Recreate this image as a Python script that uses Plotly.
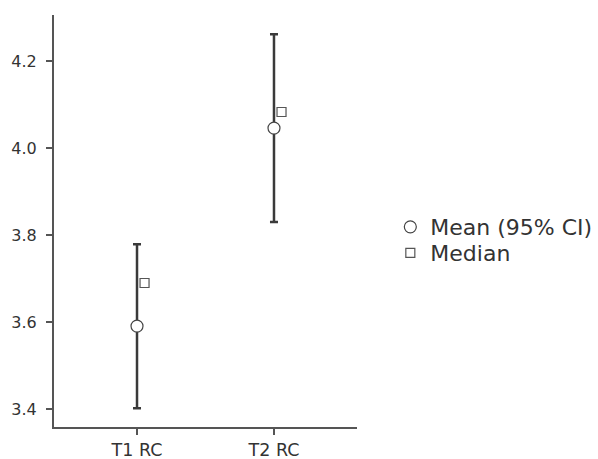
import numpy as np
import plotly.graph_objects as go

categories = ["T1 RC", "T2 RC"]
means = [3.591, 4.046]
ci_low = [3.402, 3.830]
ci_high = [3.779, 4.262]
medians = [3.690, 4.083]
y_ticks = [3.4, 3.6, 3.8, 4.0, 4.2]

xpos = np.arange(len(categories))
m = np.array(means)
err_plus = np.array(ci_high) - m
err_minus = m - np.array(ci_low)

ink = "#333333"
axis_col = "#555555"
font_family = "DejaVu Sans, Liberation Sans, sans-serif"

fig = go.Figure()
fig.add_trace(go.Scatter(
    x=xpos, y=means, mode="markers", name="Mean (95% CI)", legend="legend",
    marker=dict(symbol="circle", size=12, color="white", line=dict(color="#444444", width=1.2)),
    error_y=dict(type="data", symmetric=False, array=err_plus, arrayminus=err_minus,
                 color="#3a3a3a", thickness=2.5, width=4),
))
fig.add_trace(go.Scatter(
    x=xpos + 0.055, y=medians, mode="markers", name="Median", legend="legend2",
    marker=dict(symbol="square", size=9, color="white", line=dict(color="#555555", width=1.2)),
))

leg_common = dict(xanchor="left", yanchor="middle", font=dict(size=22, color=ink, family=font_family),
                  itemwidth=30, bgcolor="rgba(0,0,0,0)", borderwidth=0)

# plot area: x 54..357, y 15..427 inside a 598x459 figure
fig.update_layout(
    width=598, height=459,
    margin=dict(l=54, r=241, t=15, b=32, autoexpand=False),
    plot_bgcolor="white", paper_bgcolor="white",
    font=dict(family=font_family, color=ink, size=16),
    showlegend=True,
    legend=dict(x=1.11, y=0.4854, **leg_common),
    legend2=dict(x=1.11, y=0.4223, **leg_common),
    xaxis=dict(range=[-0.606, 1.606], tickvals=xpos, ticktext=categories,
               showgrid=False, zeroline=False, showline=True, linecolor=axis_col, linewidth=2,
               ticks="outside", ticklen=6, tickcolor=axis_col, tickwidth=2,
               tickfont=dict(size=17.5, color=ink), automargin=False),
    yaxis=dict(range=[3.359, 4.306], tickvals=y_ticks, tickformat=".1f",
               showgrid=False, zeroline=False, showline=True, linecolor=axis_col, linewidth=2,
               ticks="outside", ticklen=6, tickcolor=axis_col, tickwidth=2,
               ticklabelstandoff=6,
               tickfont=dict(size=16, color=ink), automargin=False),
)

fig.write_html(
    "out.html",
    config={"displayModeBar": False},
    post_script="document.body.style.margin='0';document.documentElement.style.overflow='hidden';",
)
